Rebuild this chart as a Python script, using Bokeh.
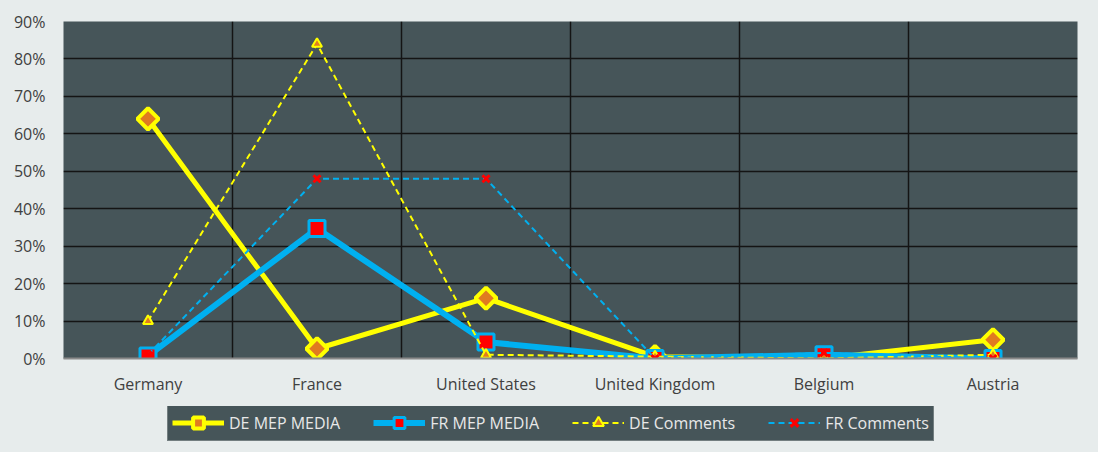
import math

from bokeh.embed import file_html
from bokeh.layouts import column
from bokeh.models import (ColumnDataSource, FixedTicker, Legend, LegendItem,
                          NumeralTickFormatter, Range1d)
from bokeh.plotting import figure
from bokeh.resources import INLINE

countries = ["Germany", "France", "United States", "United Kingdom", "Belgium", "Austria"]
de_mep_media = [0.64, 0.026, 0.161, 0.005, 0.0, 0.05]
fr_mep_media = [0.007, 0.347, 0.044, 0.0, 0.01, 0.0]
de_comments = [0.10, 0.84, 0.01, 0.005, 0.0, 0.01]
fr_comments = [0.01, 0.48, 0.48, 0.0, 0.015, 0.0]
series_names = ["DE MEP MEDIA", "FR MEP MEDIA", "DE Comments", "FR Comments"]

BG = "#e7ecec"
PANEL = "#465559"
YELLOW = "#ffff00"
BLUE = "#00b0f0"
ORANGE = "#e07b20"

xs = list(range(len(countries)))
source = ColumnDataSource(data=dict(
    x=xs, de_mep=de_mep_media, fr_mep=fr_mep_media,
    de_com=de_comments, fr_com=fr_comments,
))

# styles per series: (line kwargs, marker kwargs)
styles = [
    (dict(color=YELLOW, line_width=5),
     dict(marker="square", size=15, angle=math.pi / 4, fill_color=ORANGE,
          line_color=YELLOW, line_width=4)),
    (dict(color=BLUE, line_width=6),
     dict(marker="square", size=16, fill_color="red", line_color=BLUE, line_width=3)),
    (dict(color=YELLOW, line_width=2, line_dash="6 4"),
     dict(marker="triangle", size=10, fill_color=ORANGE, line_color=YELLOW, line_width=2)),
    (dict(color=BLUE, line_width=2, line_dash="6 4"),
     dict(marker="x", size=10, line_color="red", line_width=3)),
]
columns = ["de_mep", "fr_mep", "de_com", "fr_com"]

p = figure(
    width=1098, height=400,
    x_range=Range1d(-0.5, len(countries) - 0.5),
    y_range=Range1d(0, 0.9),
    output_backend="svg", toolbar_location=None,
    background_fill_color=PANEL, border_fill_color=BG,
    min_border_left=63, min_border_right=21, min_border_top=21, min_border_bottom=42,
    outline_line_color=None,
)

# grid
p.xgrid.ticker = FixedTicker(ticks=[i + 0.5 for i in range(len(countries) - 1)])
p.xgrid.grid_line_color = "#141414"
p.xgrid.grid_line_width = 1.5
p.ygrid.ticker = FixedTicker(ticks=[i / 10 for i in range(1, 10)])
p.ygrid.grid_line_color = "#141414"
p.ygrid.grid_line_width = 1.5

# axes
p.xaxis.ticker = FixedTicker(ticks=xs)
p.xaxis.major_label_overrides = {i: c for i, c in enumerate(countries)}
p.yaxis.ticker = FixedTicker(ticks=[i / 10 for i in range(10)])
p.yaxis.formatter = NumeralTickFormatter(format="0%")
for ax in (p.xaxis, p.yaxis):
    ax.major_label_text_font = "Open Sans"
    ax.major_label_text_font_size = "16px"
    ax.major_label_text_color = "#404040"
    ax.major_tick_line_color = None
    ax.minor_tick_line_color = None
p.xaxis.axis_line_color = "#8a8a8a"
p.xaxis.axis_line_width = 2
p.yaxis.axis_line_color = None
p.xaxis.major_label_standoff = 8
p.yaxis.major_label_standoff = 12

for col, (lkw, mkw) in zip(columns, styles):
    p.line("x", col, source=source, **lkw)
    p.scatter("x", col, source=source, **mkw)

# legend strip below the chart
leg = figure(
    width=1098, height=52,
    x_range=Range1d(0, 1), y_range=Range1d(0, 1),
    output_backend="svg", toolbar_location=None,
    background_fill_color=BG, border_fill_color=BG,
    min_border_left=63, min_border_right=21, min_border_top=6, min_border_bottom=11,
    outline_line_color=None,
)
leg.axis.visible = False
leg.grid.visible = False

# legend-only renderers (NaN point, nothing drawn in the strip itself)
dummy = ColumnDataSource(data=dict(x=[float("nan")], y=[float("nan")]))
items = []
for name, (lkw, mkw) in zip(series_names, styles):
    r1 = leg.line("x", "y", source=dummy, **lkw)
    r2 = leg.scatter("x", "y", source=dummy, **mkw)
    items.append(LegendItem(label=name, renderers=[r1, r2]))

legend = Legend(
    items=items, orientation="horizontal", location=(104, 0),
    background_fill_color=PANEL, background_fill_alpha=1,
    border_line_color="#a0a8a8", border_line_width=1,
    label_text_color="#e8e8e8", label_text_font="Open Sans",
    label_text_font_size="16px",
    glyph_width=52, glyph_height=27, label_height=27,
    spacing=33, padding=4, margin=0, label_standoff=5,
)
leg.add_layout(legend, "center")

layout = column(p, leg, spacing=0, styles={"background-color": BG})
open("out.html", "w").write(file_html(layout, INLINE))
